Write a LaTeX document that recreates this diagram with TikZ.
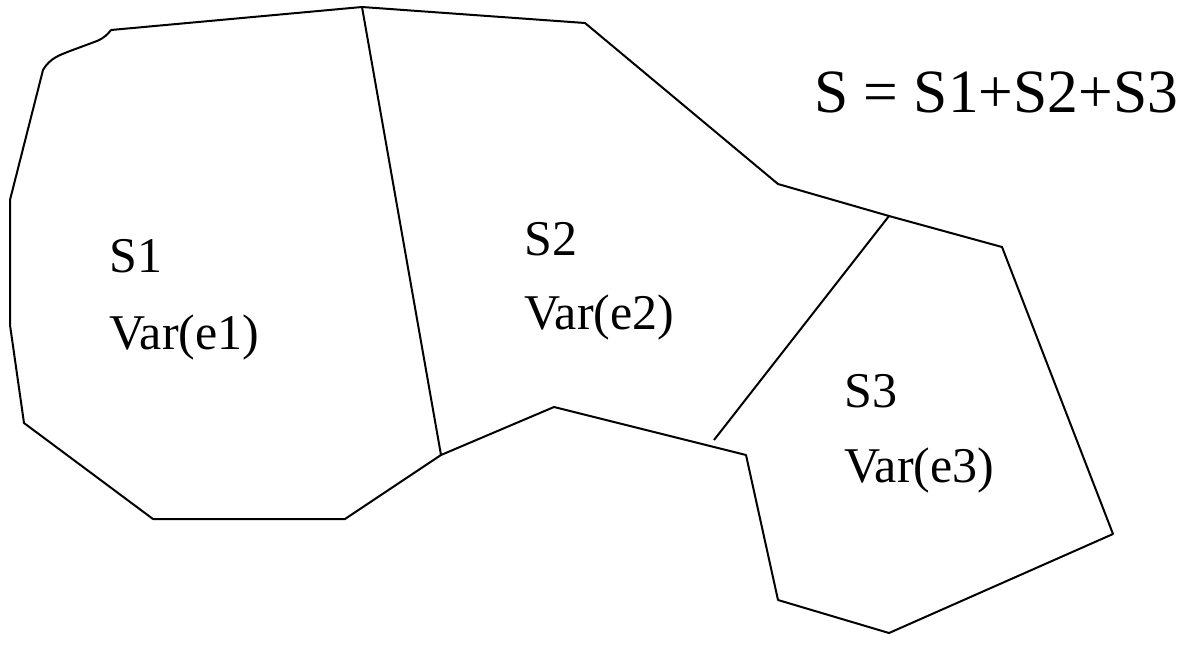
\documentclass[tikz,border=0pt]{standalone}
\usepackage{fontspec}
\setmainfont{Liberation Serif}
\begin{document}
\begin{tikzpicture}[x=1pt,y=-1pt,
  edge/.style={draw=black,line width=2pt,line join=round},
  lbl/.style={anchor=base west,inner sep=0pt,font=\fontsize{50}{58}\selectfont},
  big/.style={anchor=base west,inner sep=0pt,font=\fontsize{61.5}{70}\selectfont}]
\useasboundingbox (0,0) rectangle (1193,665);
% corner coordinates
\coordinate (p1) at (111,30);
\coordinate (p2) at (362,7);
\coordinate (p3) at (585,23);
\coordinate (p4) at (778,184);
\coordinate (p5) at (889,216);
\coordinate (p6) at (1002,247);
\coordinate (p7) at (1113,534);
\coordinate (p8) at (889,633);
\coordinate (p9) at (778,600);
\coordinate (p10) at (746,455);
\coordinate (p11) at (554,407);
\coordinate (p12) at (441,455);
\coordinate (p13) at (345,519);
\coordinate (p14) at (153,519);
\coordinate (p15) at (24,423);
\coordinate (p16) at (10,325);
\coordinate (p17) at (10,200);
\coordinate (p18) at (43,70);
\coordinate (q1) at (714,440);
% outline
\draw[edge] (p1) -- (p2) -- (p3) -- (p4) -- (p5) -- (p6) -- (p7) -- (p8) -- (p9)
  -- (p10) -- (p11) -- (p12) -- (p13) -- (p14) -- (p15) -- (p16) -- (p17) -- (p18)
  .. controls (50,58) and (60,55) .. (70,51)
  -- (97,41) .. controls (104,38) and (108,34) .. (p1);
% dividers
\draw[edge] (p2) -- (p12);
\draw[edge] (p5) -- (q1);
% labels
\node[lbl] (s1) at (109,272) {S1};
\node[lbl] (v1) at (109,349) {Var(e1)};
\node[lbl] (s2) at (524,255) {S2};
\node[lbl] (v2) at (524,329) {Var(e2)};
\node[lbl] (s3) at (844,407) {S3};
\node[lbl] (v3) at (844,482) {Var(e3)};
\node[big] (sum) at (814,112) {S = S1+S2+S3};
\end{tikzpicture}
\end{document}
